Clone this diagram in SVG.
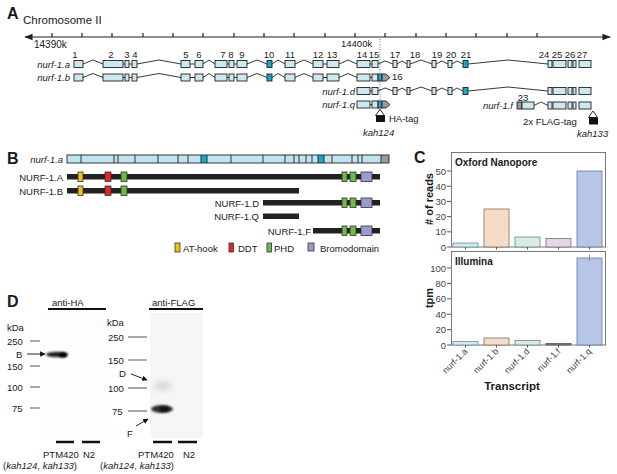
<svg xmlns="http://www.w3.org/2000/svg" width="617" height="474" viewBox="0 0 617 474">
<defs>
<style>
text{font-family:"Liberation Sans",Arial,sans-serif;fill:#1a1a1a}
.pl{font-size:16px;font-weight:bold}
.t9{font-size:9.5px}
.it{font-size:9.5px;font-style:italic}
.num{font-size:9.5px;text-anchor:middle}
.ex{fill:#cde8f1;stroke:#222;stroke-width:0.9}
.tl{fill:#1ba6cc;stroke:#222;stroke-width:0.9}
.gr{fill:#9b9b9b;stroke:#222;stroke-width:0.9}
.in{fill:none;stroke:#222;stroke-width:0.9}
.ax{stroke:#222;stroke-width:1.2;fill:none}
.pbar{fill:#222}
.dom{stroke:#333;stroke-width:0.8}
.frame{fill:#fff;stroke:#777;stroke-width:1}
.ct{font-size:9.5px;fill:#444;text-anchor:end}
.cb{font-size:10px;font-weight:bold}
.xl{font-size:9px;fill:#444;text-anchor:end}
.lane{stroke:#111;stroke-width:2.5}
.mk{stroke:#555;stroke-width:1}
</style>
<marker id="ah" viewBox="0 0 10 10" refX="9" refY="5" markerWidth="6" markerHeight="6" orient="auto"><path d="M0,0 L10,5 L0,10 z" fill="#111"/></marker>
<marker id="axh" viewBox="0 0 10 10" refX="9" refY="5" markerWidth="7" markerHeight="7" orient="auto-start-reverse"><path d="M0,1 L10,5 L0,9 z" fill="#222"/></marker>
<filter id="bl" x="-50%" y="-100%" width="200%" height="300%"><feGaussianBlur stdDeviation="1.3"/></filter>
<filter id="bl2" x="-50%" y="-100%" width="200%" height="300%"><feGaussianBlur stdDeviation="3"/></filter>
</defs>
<rect width="617" height="474" fill="#fff"/>

<!-- Panel A -->
<g id="panelA">
<text class="pl" x="7" y="19">A</text>
<text x="23" y="24" style="font-size:11.5px">Chromosome II</text>
<g id="axisA">
<line class="ax" x1="25" y1="37" x2="610" y2="37" marker-start="url(#axh)" marker-end="url(#axh)"/>
<path class="ax" d="M52,33v4M82,33v4M112,33v4M143,33v4M173,33v4M203,33v4M234,33v4M264,33v4M294,33v4M325,33v4M355,33v4M385,33v4M416,33v4M446,33v4M476,33v4M507,33v4M537,33v4"/>
<text class="t9" x="34" y="48" style="font-size:10px">14390k</text>
<text class="t9" x="341" y="47" style="font-size:9.5px">14400k</text>
<line x1="380" y1="39" x2="380" y2="112" stroke="#555" stroke-width="0.8" stroke-dasharray="1,1.5"/>
</g>
<g id="exonNumbers">
<text class="num" x="75" y="58">1</text><text class="num" x="111" y="58">2</text><text class="num" x="127" y="58">3</text><text class="num" x="135" y="58">4</text>
<text class="num" x="186" y="58">5</text><text class="num" x="199" y="58">6</text><text class="num" x="223" y="58">7</text><text class="num" x="231" y="58">8</text><text class="num" x="242" y="58">9</text>
<text class="num" x="269" y="58">10</text><text class="num" x="290" y="58">11</text><text class="num" x="318" y="58">12</text><text class="num" x="332" y="58">13</text>
<text class="num" x="362" y="58">14</text><text class="num" x="374" y="58">15</text><text class="num" x="395" y="58">17</text><text class="num" x="415" y="58">18</text>
<text class="num" x="437" y="58">19</text><text class="num" x="451" y="58">20</text><text class="num" x="466" y="58">21</text>
<text class="num" x="544" y="58">24</text><text class="num" x="557" y="58">25</text><text class="num" x="570" y="58">26</text><text class="num" x="582" y="58">27</text>
</g>
<g id="nurf1a">
<text class="it" x="70" y="67.5" text-anchor="end">nurf-1.a</text>
<path class="in" d="M83,64 L93,60 L103,64 M123,64H125 M129,64H132 M137,64 L159,60 L181,64 M190,64H195 M203,64 L209,60 L215,64 M227,64H229 M234,64H237 M247,64 L257,60 L267,64 M272,64 L278,60 L285,64 M295,64 L304,60 L313,64 M323,64H327 M339,64 L348,60 L357,64 M370,64H372 M378,64 L385,61 L393,64 M397,64 L402,61 L407,64 M410,64 L421,60 L432,64 M436,64 L442,61 L448,64 M452,64 L457,61 L463,64 M468,64 L508,60 L548,64"/>
<rect class="ex" x="74" y="60.5" width="9" height="7"/><rect class="ex" x="103" y="60.5" width="20" height="7"/><rect class="ex" x="125" y="60.5" width="4" height="7"/><rect class="ex" x="132" y="60.5" width="5" height="7"/>
<rect class="ex" x="181" y="60.5" width="9" height="7"/><rect class="ex" x="195" y="60.5" width="8" height="7"/><rect class="ex" x="215" y="60.5" width="12" height="7"/><rect class="ex" x="229" y="60.5" width="5" height="7"/><rect class="ex" x="237" y="60.5" width="10" height="7"/>
<rect class="tl" x="267" y="60.5" width="5" height="7"/><rect class="ex" x="285" y="60.5" width="10" height="7"/><rect class="ex" x="313" y="60.5" width="10" height="7"/><rect class="ex" x="327" y="60.5" width="12" height="7"/>
<rect class="ex" x="357" y="60.5" width="13" height="7"/><rect class="ex" x="372" y="60.5" width="6" height="7"/><rect class="ex" x="393" y="60.5" width="4" height="7"/><rect class="ex" x="407" y="60.5" width="3" height="7"/>
<rect class="ex" x="432" y="60.5" width="4" height="7"/><rect class="ex" x="448" y="60.5" width="4" height="7"/><rect class="tl" x="463" y="60.5" width="5" height="7"/>
<rect class="ex" x="548" y="60.5" width="4" height="7"/><rect class="ex" x="553" y="60.5" width="13" height="7"/><rect class="ex" x="568" y="60.5" width="4" height="7"/><rect class="ex" x="573" y="60.5" width="3" height="7"/><rect class="ex" x="579" y="60.5" width="12" height="7"/>
</g>
<g id="nurf1b">
<text class="it" x="70" y="81" text-anchor="end">nurf-1.b</text>
<path class="in" d="M83,77.5 L93,73.5 L103,77.5 M123,77.5H125 M129,77.5H132 M137,77.5 L159,73.5 L181,77.5 M190,77.5H195 M203,77.5 L209,73.5 L215,77.5 M227,77.5H229 M234,77.5H237 M247,77.5 L257,73.5 L267,77.5 M272,77.5 L278,73.5 L285,77.5 M295,77.5 L304,73.5 L313,77.5 M323,77.5H327 M339,77.5 L348,73.5 L357,77.5 M370,77.5H372"/>
<rect class="ex" x="74" y="74" width="9" height="7"/><rect class="ex" x="103" y="74" width="20" height="7"/><rect class="ex" x="125" y="74" width="4" height="7"/><rect class="ex" x="132" y="74" width="5" height="7"/>
<rect class="ex" x="181" y="74" width="9" height="7"/><rect class="ex" x="195" y="74" width="8" height="7"/><rect class="ex" x="215" y="74" width="12" height="7"/><rect class="ex" x="229" y="74" width="5" height="7"/><rect class="ex" x="237" y="74" width="10" height="7"/>
<rect class="tl" x="267" y="74" width="5" height="7"/><rect class="ex" x="285" y="74" width="10" height="7"/><rect class="ex" x="313" y="74" width="10" height="7"/><rect class="ex" x="327" y="74" width="12" height="7"/>
<rect class="ex" x="357" y="74" width="13" height="7"/><rect class="ex" x="372" y="74" width="6" height="7"/><rect class="tl" x="378" y="74" width="4" height="7"/>
<path class="gr" d="M382,74 H386 L390,77.5 L386,81 H382 Z"/>
<text class="t9" x="392" y="80">16</text>
</g>
<g id="nurf1d">
<text class="it" x="355" y="94.5" text-anchor="end">nurf-1.d</text>
<path class="in" d="M370,91H372 M378,91 L385,88 L393,91 M397,91 L402,88 L407,91 M410,91 L421,87 L432,91 M436,91 L442,88 L448,91 M452,91 L457,88 L463,91 M468,91 L508,87 L548,91"/>
<rect class="ex" x="357" y="87.5" width="13" height="7"/><rect class="ex" x="372" y="87.5" width="6" height="7"/><rect class="ex" x="393" y="87.5" width="4" height="7"/><rect class="ex" x="407" y="87.5" width="3" height="7"/>
<rect class="ex" x="432" y="87.5" width="4" height="7"/><rect class="ex" x="448" y="87.5" width="4" height="7"/><rect class="tl" x="463" y="87.5" width="5" height="7"/>
<rect class="ex" x="548" y="87.5" width="4" height="7"/><rect class="ex" x="553" y="87.5" width="13" height="7"/><rect class="ex" x="568" y="87.5" width="4" height="7"/><rect class="ex" x="573" y="87.5" width="3" height="7"/><rect class="ex" x="579" y="87.5" width="12" height="7"/>
</g>
<g id="nurf1q">
<text class="it" x="355" y="108" text-anchor="end">nurf-1.q</text>
<path class="in" d="M370,104.5H372"/>
<rect class="ex" x="357" y="101" width="13" height="7"/><rect class="ex" x="372" y="101" width="6" height="7"/><rect class="tl" x="378" y="101" width="4" height="7"/>
<path class="gr" d="M382,101 H386 L390,104.5 L386,108 H382 Z"/>
</g>
<g id="haTag">
<path d="M380,109.5 L384.5,115.5 H375.5 Z" fill="#fff" stroke="#111" stroke-width="0.9"/>
<rect x="376" y="115.5" width="9" height="6.5" fill="#111"/>
<text class="t9" x="389" y="122">HA-tag</text>
<text class="it" x="363" y="136">kah124</text>
</g>
<g id="nurf1f">
<text class="it" x="513" y="109" text-anchor="end">nurf-1.f</text>
<text class="num" x="523" y="101">23</text>
<path class="in" d="M534,105.5 L541,102 L548,105.5"/>
<rect class="gr" x="517" y="102" width="5" height="7"/><rect class="ex" x="522" y="102" width="12" height="7"/>
<rect class="ex" x="548" y="102" width="4" height="7"/><rect class="ex" x="553" y="102" width="13" height="7"/><rect class="ex" x="568" y="102" width="4" height="7"/><rect class="ex" x="573" y="102" width="3" height="7"/><rect class="ex" x="579" y="102" width="12" height="7"/>
</g>
<g id="flagTag">
<path d="M593,111 L597.5,117.5 H588.5 Z" fill="#fff" stroke="#111" stroke-width="0.9"/>
<rect x="589" y="117.5" width="9" height="7" fill="#111"/>
<text class="t9" x="523" y="125">2x FLAG-tag</text>
<text class="it" x="577" y="137">kah133</text>
</g>
</g>

<!-- Panel B -->
<g id="panelB">
<text class="pl" x="7" y="164">B</text>
<g id="protA_transcript">
<text class="it" x="63" y="162.5" text-anchor="end">nurf-1.a</text>
<rect x="67" y="155" width="322" height="8" fill="#bfe3ef"/>
<rect x="201" y="155" width="6" height="8" fill="#1ba6cc"/>
<rect x="318" y="155" width="6" height="8" fill="#1ba6cc"/>
<rect x="381" y="155" width="8" height="8" fill="#9b9b9b"/>
<path stroke="#222" stroke-width="0.9" d="M81,155v8M114,155v8M118,155v8M135,155v8M158,155v8M178,155v8M188,155v8M201,155v8M207,155v8M231,155v8M263,155v8M285,155v8M294,155v8M299,155v8M306,155v8M312,155v8M318,155v8M324,155v8M332,155v8M352,155v8M358,155v8M362,155v8M381,155v8"/>
<rect x="67" y="155" width="322" height="8" fill="none" stroke="#222" stroke-width="0.9"/>
</g>
<g id="NURF1A">
<text class="t9" x="63" y="180.5" text-anchor="end">NURF-1.A</text>
<rect class="pbar" x="67" y="174" width="313" height="5.5"/>
<rect class="dom" x="78" y="172" width="5" height="9.5" fill="#f2c01b"/>
<rect class="dom" x="105" y="172" width="6" height="9.5" fill="#e3252a"/>
<rect class="dom" x="121" y="172" width="6" height="9.5" fill="#6dbb45"/>
<rect class="dom" x="342" y="172" width="5" height="9.5" fill="#6dbb45"/>
<rect class="dom" x="350" y="172" width="6" height="9.5" fill="#6dbb45"/>
<rect class="dom" x="361" y="172" width="11" height="9.5" fill="#9b9bd0"/>
</g>
<g id="NURF1B">
<text class="t9" x="63" y="194.5" text-anchor="end">NURF-1.B</text>
<rect class="pbar" x="67" y="188" width="232" height="5.5"/>
<rect class="dom" x="78" y="186" width="5" height="9.5" fill="#f2c01b"/>
<rect class="dom" x="105" y="186" width="6" height="9.5" fill="#e3252a"/>
<rect class="dom" x="121" y="186" width="6" height="9.5" fill="#6dbb45"/>
</g>
<g id="NURF1D">
<text class="t9" x="259" y="206.5" text-anchor="end">NURF-1.D</text>
<rect class="pbar" x="263" y="200" width="117" height="5.5"/>
<rect class="dom" x="342" y="198" width="5" height="9.5" fill="#6dbb45"/>
<rect class="dom" x="350" y="198" width="6" height="9.5" fill="#6dbb45"/>
<rect class="dom" x="361" y="198" width="11" height="9.5" fill="#9b9bd0"/>
</g>
<g id="NURF1Q">
<text class="t9" x="259" y="219.5" text-anchor="end">NURF-1.Q</text>
<rect class="pbar" x="263" y="213.5" width="36" height="5.5"/>
</g>
<g id="NURF1F">
<text class="t9" x="311" y="234.5" text-anchor="end">NURF-1.F</text>
<rect class="pbar" x="313" y="228" width="67" height="5.5"/>
<rect class="dom" x="342" y="226" width="5" height="9.5" fill="#6dbb45"/>
<rect class="dom" x="350" y="226" width="6" height="9.5" fill="#6dbb45"/>
<rect class="dom" x="361" y="226" width="11" height="9.5" fill="#9b9bd0"/>
</g>
<g id="legendB">
<rect class="dom" x="175" y="243" width="5" height="9" fill="#f2c01b"/><text class="t9" x="183" y="251.5">AT-hook</text>
<rect class="dom" x="229" y="243" width="4.5" height="9" fill="#e3252a"/><text class="t9" x="238" y="251.5">DDT</text>
<rect class="dom" x="267" y="243" width="4.5" height="9" fill="#6dbb45"/><text class="t9" x="274" y="251.5">PHD</text>
<rect class="dom" x="308" y="243" width="6" height="8" fill="#9b9bd0"/><text class="t9" x="320" y="251.5">Bromodomain</text>
</g>
</g>

<!-- Panel C -->
<g id="panelC">
<text class="pl" x="414" y="163">C</text>
<g id="chartTop">
<rect class="frame" x="451.5" y="152.5" width="154" height="94.5"/>
<text class="cb" x="455" y="166">Oxford Nanopore</text>
<text class="cb" transform="translate(433,199) rotate(-90)" text-anchor="middle" style="font-size:11px"># of reads</text>
<path class="mk" d="M447,247H451M447,231.8H451M447,216.6H451M447,201.4H451M447,186.2H451M447,171H451"/>
<text class="ct" x="446" y="250.5">0</text><text class="ct" x="446" y="235">10</text><text class="ct" x="446" y="220">20</text><text class="ct" x="446" y="205">30</text><text class="ct" x="446" y="190">40</text><text class="ct" x="446" y="174.5">50</text>
<rect x="453" y="243" width="25" height="4" fill="#d3eaf0" stroke="#6a8f98" stroke-width="0.8"/>
<rect x="484" y="209" width="25" height="38" fill="#f5dcc6" stroke="#8a6e5a" stroke-width="0.8"/>
<rect x="515" y="237" width="25" height="10" fill="#d7ece4" stroke="#6a8a80" stroke-width="0.8"/>
<rect x="546" y="238.5" width="25" height="8.5" fill="#e4d6e8" stroke="#7d6a85" stroke-width="0.8"/>
<rect x="577" y="171" width="25" height="76" fill="#b7c5e8" stroke="#6878a0" stroke-width="0.8"/>
<path class="mk" d="M465.5,247v2.5M496.5,247v2.5M527.5,247v2.5M558.5,247v2.5M589.5,247v2.5"/>
</g>
<g id="chartBottom">
<rect class="frame" x="451.5" y="251.5" width="154" height="93.5"/>
<text class="cb" x="455" y="265">Illumina</text>
<text class="cb" transform="translate(433,298) rotate(-90)" text-anchor="middle" style="font-size:11px">tpm</text>
<path class="mk" d="M447,345H451M447,329.6H451M447,314.2H451M447,298.8H451M447,283.4H451M447,268H451"/>
<text class="ct" x="446" y="348.5">0</text><text class="ct" x="446" y="333">20</text><text class="ct" x="446" y="317.5">40</text><text class="ct" x="446" y="302">60</text><text class="ct" x="446" y="287">80</text><text class="ct" x="446" y="271.5">100</text>
<rect x="453" y="341.5" width="25" height="3.5" fill="#d3eaf0" stroke="#6a8f98" stroke-width="0.8"/>
<rect x="484" y="338" width="25" height="7" fill="#f5dcc6" stroke="#8a6e5a" stroke-width="0.8"/>
<rect x="515" y="340.5" width="25" height="4.5" fill="#d7ece4" stroke="#6a8a80" stroke-width="0.8"/>
<rect x="546" y="343.5" width="25" height="1.5" fill="#8a7a90" stroke="#555" stroke-width="0.8"/>
<rect x="577" y="258" width="25" height="87" fill="#b7c5e8" stroke="#6878a0" stroke-width="0.8"/>
<line x1="589.5" y1="254.5" x2="589.5" y2="261" stroke="#888" stroke-width="0.8"/>
<path class="mk" d="M465.5,345v2.5M496.5,345v2.5M527.5,345v2.5M558.5,345v2.5M589.5,345v2.5"/>
<text class="xl" transform="translate(468,352) rotate(-45)">nurf-1.a</text>
<text class="xl" transform="translate(499,352) rotate(-45)">nurf-1.b</text>
<text class="xl" transform="translate(530,352) rotate(-45)">nurf-1.d</text>
<text class="xl" transform="translate(561,352) rotate(-45)">nurf-1.f</text>
<text class="xl" transform="translate(592,352) rotate(-45)">nurf-1.q</text>
<text class="cb" x="512" y="390" text-anchor="middle" style="font-size:11.5px">Transcript</text>
</g>
</g>

<!-- Panel D -->
<g id="panelD">
<text class="pl" x="7" y="307">D</text>
<g id="blotHA">
<text class="t9" x="52" y="306">anti-HA</text>
<line x1="48" y1="309" x2="106" y2="309" stroke="#111" stroke-width="2.2"/>
<rect x="40" y="313" width="66" height="125" fill="#fdfdfd"/>
<ellipse cx="57" cy="354.5" rx="11" ry="2.8" fill="#222" filter="url(#bl)"/>
<ellipse cx="63" cy="355" rx="4" ry="2.5" fill="#000" filter="url(#bl)"/>
<text class="t9" x="7" y="331">kDa</text>
<text class="t9" x="7" y="344.5">250</text><line class="mk" x1="30" y1="341" x2="40" y2="341"/>
<text class="t9" x="16" y="357.5">B</text><line x1="27" y1="354" x2="45" y2="354" stroke="#111" stroke-width="0.9" marker-end="url(#ah)"/>
<text class="t9" x="7" y="369.5">150</text><line class="mk" x1="30" y1="366" x2="40" y2="366"/>
<text class="t9" x="7" y="390.5">100</text><line class="mk" x1="30" y1="387" x2="40" y2="387"/>
<text class="t9" x="12" y="411.5">75</text><line class="mk" x1="30" y1="408" x2="40" y2="408"/>
<line class="lane" x1="56" y1="442" x2="74" y2="442"/><line class="lane" x1="82" y1="442" x2="100" y2="442"/>
<text class="t9" x="43" y="458">PTM420</text><text class="t9" x="83" y="458">N2</text>
<text class="t9" x="3" y="469">(<tspan font-style="italic">kah124</tspan>, <tspan font-style="italic">kah133</tspan>)</text>
</g>
<g id="blotFLAG">
<text class="t9" x="152" y="306">anti-FLAG</text>
<line x1="149" y1="309" x2="203" y2="309" stroke="#111" stroke-width="2.2"/>
<rect x="150" y="313" width="53" height="125" fill="#f6f6f6"/>
<ellipse cx="163" cy="386" rx="9" ry="4" fill="#d2d2d2" filter="url(#bl2)"/>
<ellipse cx="162" cy="409" rx="11" ry="4" fill="#333" filter="url(#bl)"/>
<ellipse cx="164" cy="409" rx="5" ry="2.5" fill="#111" filter="url(#bl)"/>
<text class="t9" x="107" y="326">kDa</text>
<text class="t9" x="108" y="340.5">250</text><line class="mk" x1="128" y1="337" x2="147" y2="337"/>
<text class="t9" x="108" y="363.5">150</text><line class="mk" x1="128" y1="360" x2="147" y2="360"/>
<text class="t9" x="119" y="377">D</text><line x1="131" y1="374" x2="147" y2="380" stroke="#111" stroke-width="0.9" marker-end="url(#ah)"/>
<text class="t9" x="108" y="391.5">100</text><line class="mk" x1="128" y1="388" x2="147" y2="388"/>
<text class="t9" x="112" y="414.5">75</text><line class="mk" x1="128" y1="411" x2="147" y2="411"/>
<text class="t9" x="127" y="437">F</text><line x1="136" y1="426" x2="148" y2="419" stroke="#111" stroke-width="0.9" marker-end="url(#ah)"/>
<line class="lane" x1="153" y1="442" x2="172" y2="442"/><line class="lane" x1="178" y1="442" x2="197" y2="442"/>
<text class="t9" x="138" y="458">PTM420</text><text class="t9" x="183" y="458">N2</text>
<text class="t9" x="100" y="469">(<tspan font-style="italic">kah124</tspan>, <tspan font-style="italic">kah133</tspan>)</text>
</g>
</g>
</svg>
